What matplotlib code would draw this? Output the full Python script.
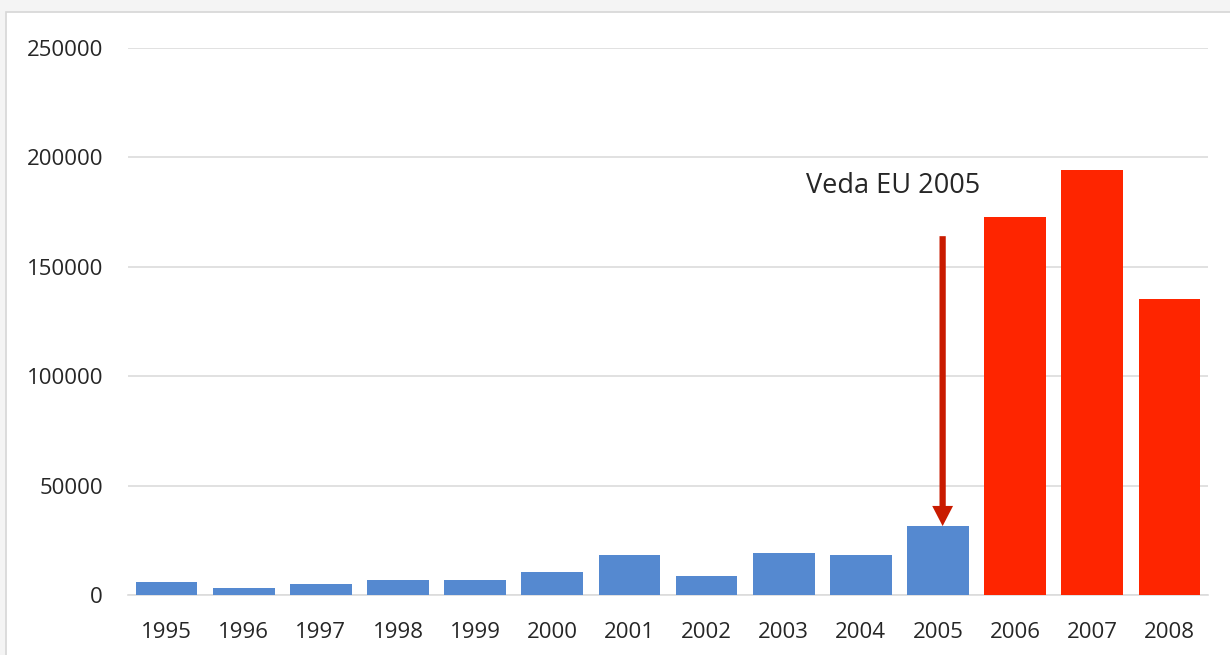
import matplotlib.pyplot as plt
from matplotlib.patches import Rectangle

years = ['1995', '1996', '1997', '1998', '1999', '2000', '2001',
         '2002', '2003', '2004', '2005', '2006', '2007', '2008']
values = [5900, 3300, 5000, 6900, 6900, 10500, 18300,
          8700, 19200, 18300, 31500, 172800, 194200, 135300]
yticks = [0, 50000, 100000, 150000, 200000, 250000]

blue = '#5589d0'
red = '#fe2500'
colors = [blue if int(y) <= 2005 else red for y in years]

plt.rcParams['font.family'] = ['Open Sans', 'DejaVu Sans']

fig = plt.figure(figsize=(12.3, 6.55), dpi=100)
fig.patch.set_facecolor('#f4f4f4')
# white chart area with a thin frame
fig.patches.append(Rectangle((6 / 1230, -0.01), 1.02, (655 - 12) / 655 + 0.01,
                             transform=fig.transFigure, facecolor='white',
                             edgecolor='#d6d6d6', linewidth=1.2, zorder=-5))

ax = fig.add_axes([128 / 1230, 60 / 655, 1080 / 1230, 547 / 655])
ax.set_facecolor('none')
ax.set_zorder(2)

x = range(len(years))
ax.bar(x, values, width=0.8, color=colors, zorder=3)

ax.set_xlim(-0.5, len(years) - 0.5)
ax.set_ylim(0, 250000)
ax.set_xticks(list(x))
ax.set_xticklabels(years)
ax.set_yticks(yticks)
ax.set_yticklabels([str(t) for t in yticks])
ax.tick_params(length=0, labelsize=16, labelcolor='#262626')
ax.tick_params(axis='x', pad=19.5)
ax.tick_params(axis='y', pad=18)

ax.grid(axis='y', color='#dcdcdc', linewidth=1.2, zorder=0)
for s in ['top', 'right', 'left']:
    ax.spines[s].set_visible(False)
ax.spines['bottom'].set_color('#dcdcdc')
ax.spines['bottom'].set_linewidth(1.2)

# arrow pointing to the 2005 bar
i2005 = years.index('2005')
ax.annotate('', xy=(i2005 + 0.06, values[i2005]), xytext=(i2005 + 0.06, 164000),
            arrowprops=dict(width=4.5, headwidth=15, headlength=14.5,
                            facecolor='#c91b00', edgecolor='#c91b00', lw=0,
                            shrink=0),
            zorder=5)
ax.text(8.29, 187000, 'Veda EU 2005', fontsize=19.5, color='#262626',
        ha='left', va='center')

fig.savefig('out.png', dpi=100, facecolor=fig.get_facecolor())
